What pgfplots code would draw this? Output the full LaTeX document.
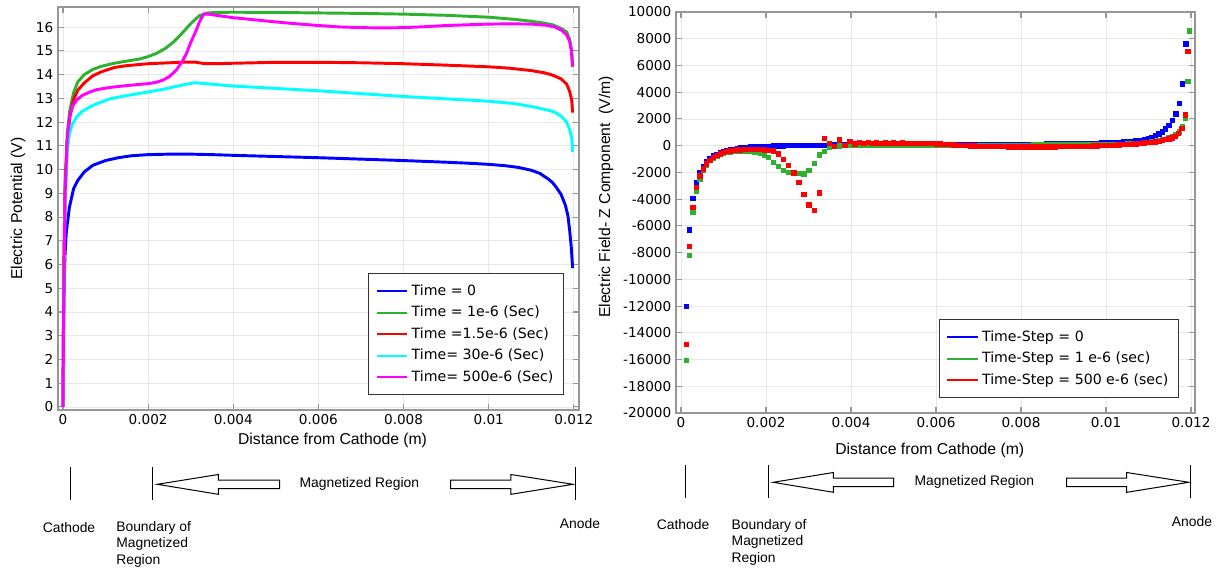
\documentclass[border=0pt]{standalone}
\usepackage{pgfplots}
\pgfplotsset{compat=1.18}
\usepackage{pgfplotstable}
\usepackage{fontspec}
\setmainfont{DejaVu Sans}
\newfontfamily\arialfont{Liberation Sans}

\definecolor{cblue}{RGB}{0,0,255}
\definecolor{cgreen}{RGB}{46,177,46}
\definecolor{cred}{RGB}{255,0,0}
\definecolor{ccyan}{RGB}{0,255,255}
\definecolor{cmag}{RGB}{255,0,255}
\definecolor{framegray}{RGB}{150,150,150}
\definecolor{gridgray}{RGB}{232,232,232}

% ---------- left plot: electric potential ----------
\pgfplotstableread{
x y
0 0
0.00001 3
0.00003 5.5
0.00005 6.5
0.00008 7.4
0.00015 8.4
0.00025 9.2
0.00035 9.55
0.0005 9.9
0.0007 10.18
0.001 10.38
0.0013 10.5
0.0016 10.58
0.002 10.63
0.0025 10.65
0.003 10.65
0.0035 10.63
0.004 10.6
0.005 10.55
0.006 10.5
0.007 10.44
0.008 10.38
0.009 10.31
0.0095 10.27
0.01 10.22
0.0104 10.16
0.0107 10.09
0.011 9.97
0.0112 9.84
0.0114 9.6
0.0115 9.45
0.0116 9.22
0.0117 8.95
0.0118 8.5
0.01186 8.05
0.0119 7.45
0.01194 6.7
0.01197 5.85
}\blueL

\pgfplotstableread{
x y
0 0
0.00002 6
0.00005 9.5
0.0001 11.5
0.00016 12.5
0.00025 13.25
0.00035 13.7
0.0005 14.0
0.0007 14.22
0.0009 14.35
0.0012 14.48
0.0015 14.57
0.0018 14.66
0.002 14.76
0.0022 14.9
0.0024 15.1
0.0026 15.38
0.0028 15.75
0.003 16.15
0.0032 16.48
0.0034 16.6
0.0036 16.62
0.004 16.63
0.005 16.62
0.006 16.6
0.007 16.58
0.008 16.55
0.009 16.5
0.01 16.42
0.0106 16.33
0.011 16.25
0.0113 16.17
0.0115 16.1
0.0117 15.95
0.01183 15.8
0.0119 15.5
0.01194 15.1
0.01197 14.4
}\greenL

\pgfplotstableread{
x y
0 0
0.00002 6
0.00005 9.2
0.0001 11.1
0.00016 12.2
0.00025 12.95
0.00035 13.35
0.0005 13.65
0.0007 13.95
0.0009 14.12
0.0012 14.3
0.0015 14.38
0.002 14.46
0.0025 14.5
0.0029 14.53
0.0031 14.53
0.0033 14.47
0.0036 14.46
0.004 14.48
0.005 14.52
0.006 14.52
0.007 14.5
0.008 14.46
0.009 14.4
0.01 14.33
0.0105 14.27
0.011 14.17
0.0113 14.08
0.0115 13.98
0.0117 13.82
0.01183 13.6
0.0119 13.3
0.01195 12.9
0.01197 12.4
}\redL

\pgfplotstableread{
x y
0 0
0.00002 5
0.00005 8.5
0.0001 10.8
0.00015 11.5
0.00022 11.9
0.00032 12.22
0.00045 12.45
0.00063 12.64
0.0008 12.78
0.0011 12.98
0.0015 13.12
0.002 13.27
0.0024 13.4
0.0027 13.52
0.0029 13.6
0.0031 13.66
0.0033 13.63
0.0036 13.58
0.004 13.52
0.005 13.42
0.006 13.32
0.007 13.2
0.008 13.08
0.009 12.98
0.01 12.88
0.0106 12.78
0.011 12.66
0.0114 12.5
0.01155 12.42
0.0117 12.25
0.01182 12.02
0.0119 11.7
0.01195 11.3
0.01197 10.75
}\cyanL

\pgfplotstableread{
x y
0 0
0.00002 5
0.00005 9
0.0001 11.3
0.00015 12.2
0.00022 12.65
0.00032 12.93
0.00045 13.12
0.00063 13.27
0.0008 13.37
0.0011 13.46
0.0015 13.54
0.002 13.62
0.0022 13.68
0.00235 13.77
0.0025 13.92
0.00266 14.19
0.0028 14.55
0.0029 14.89
0.003 15.35
0.00313 15.87
0.0032 16.2
0.0033 16.55
0.0034 16.55
0.0036 16.5
0.004 16.4
0.005 16.22
0.0055 16.14
0.006 16.07
0.0065 16.01
0.007 15.98
0.0075 15.97
0.008 15.98
0.0085 16.02
0.009 16.07
0.0095 16.1
0.01 16.13
0.0105 16.14
0.011 16.13
0.01135 16.08
0.01155 16.01
0.0117 15.88
0.01182 15.7
0.0119 15.4
0.01194 15.0
0.01197 14.33
}\magL

% ---------- right plot: electric field ----------
\pgfplotstableread{
x y
0.00012 -12000
0.0002 -6300
0.00028 -3940
0.00036 -2750
0.00044 -1970
0.00052 -1520
0.0006 -1190
0.00068 -950
0.00076 -770
0.00084 -630
0.00092 -520
0.001 -430
0.00108 -360
0.00116 -300
0.00124 -250
0.00132 -205
0.0014 -170
0.00148 -140
0.00156 -115
0.00164 -95
0.00172 -75
0.0018 -60
0.00188 -45
0.00196 -35
0.00205 -25
0.00217 -15
0.00229 -5
0.00241 5
0.00253 10
0.00265 15
0.00277 20
0.00289 25
0.00301 30
0.00313 35
0.00325 40
0.00337 45
0.00349 50
0.00361 55
0.00373 60
0.00385 62
0.00397 65
0.00409 68
0.0042 70
0.0043 72
0.0044 74
0.0045 75
0.0046 77
0.0047 78
0.0048 80
0.0049 81
0.005 83
0.0051 84
0.0052 85
0.0053 86
0.0054 87
0.0055 88
0.0056 89
0.0057 90
0.0058 91
0.0059 92
0.006 93
0.0061 94
0.0062 95
0.0063 96
0.0064 97
0.0065 98
0.0066 99
0.0067 100
0.0068 101
0.0069 102
0.007 103
0.0071 104
0.0072 105
0.0073 106
0.0074 107
0.0075 108
0.0076 109
0.0077 110
0.0078 112
0.0079 113
0.008 115
0.0081 117
0.0082 119
0.0083 121
0.0084 123
0.0085 125
0.0086 128
0.0087 131
0.0088 134
0.0089 137
0.009 141
0.0091 145
0.0092 150
0.0093 155
0.0094 161
0.0095 168
0.0096 176
0.0097 185
0.0098 195
0.0099 206
0.01 218
0.0101 232
0.0102 248
0.0103 266
0.0104 286
0.0105 310
0.0106 337
0.0107 368
0.0108 405
0.0109 460
0.011 560
0.01108 650
0.01116 760
0.01124 880
0.01132 1040
0.0114 1270
0.01148 1530
0.01156 1880
0.01164 2380
0.01172 3150
0.0118 4620
0.01188 7630
}\blueR

\pgfplotstableread{
x y
0.00012 -16060
0.0002 -8200
0.00028 -4990
0.00036 -3380
0.00044 -2470
0.00052 -1840
0.0006 -1430
0.00068 -1110
0.00076 -900
0.00084 -760
0.00092 -650
0.001 -570
0.00108 -510
0.00116 -470
0.00124 -440
0.00132 -420
0.0014 -410
0.00148 -405
0.00156 -410
0.00164 -425
0.00172 -460
0.0018 -510
0.00188 -580
0.00196 -700
0.00205 -880
0.00217 -1250
0.00229 -1560
0.00241 -1860
0.00253 -1990
0.00265 -2050
0.00277 -2080
0.00289 -2090
0.00301 -1850
0.00313 -1300
0.00325 -680
0.00337 -420
0.00349 -130
0.00361 -50
0.00373 -10
0.00385 15
0.00397 25
0.00409 30
0.0042 32
0.0043 34
0.0044 35
0.0045 36
0.0046 37
0.0047 38
0.0048 38
0.0049 39
0.005 39
0.0051 40
0.0052 40
0.0053 41
0.0054 41
0.0055 41
0.0056 42
0.0057 42
0.0058 42
0.0059 43
0.006 43
0.0061 43
0.0062 44
0.0063 44
0.0064 44
0.0065 45
0.0066 45
0.0067 45
0.0068 46
0.0069 46
0.007 46
0.0071 47
0.0072 47
0.0073 47
0.0074 48
0.0075 48
0.0076 48
0.0077 49
0.0078 49
0.0079 50
0.008 50
0.0081 51
0.0082 52
0.0083 53
0.0084 54
0.0085 55
0.0086 56
0.0087 57
0.0088 58
0.0089 59
0.009 60
0.0091 62
0.0092 64
0.0093 66
0.0094 68
0.0095 70
0.0096 72
0.0097 74
0.0098 76
0.0099 78
0.01 80
0.0101 87
0.0102 95
0.0103 105
0.0104 117
0.0105 130
0.0106 145
0.0107 163
0.0108 185
0.0109 215
0.011 250
0.01108 280
0.01116 320
0.01124 370
0.01132 430
0.0114 500
0.01148 590
0.01156 700
0.01164 850
0.01172 1050
0.01179 1400
0.01186 2070
0.01192 4810
0.01196 8600
}\greenR

\pgfplotstableread{
x y
0.00012 -14860
0.0002 -7530
0.00028 -4590
0.00036 -3120
0.00044 -2240
0.00052 -1740
0.0006 -1350
0.00068 -1070
0.00076 -870
0.00084 -720
0.00092 -600
0.001 -510
0.00108 -440
0.00116 -385
0.00124 -345
0.00132 -315
0.0014 -295
0.00148 -280
0.00156 -270
0.00164 -265
0.00172 -265
0.0018 -270
0.00188 -285
0.00196 -305
0.00205 -330
0.00217 -380
0.00229 -620
0.00241 -1000
0.00253 -1450
0.00265 -2030
0.00277 -2750
0.00289 -3620
0.00301 -4420
0.00313 -4850
0.00325 -3520
0.00337 560
0.00349 200
0.00361 -40
0.00373 450
0.00385 30
0.00397 320
0.00409 150
0.0042 260
0.0043 180
0.0044 240
0.0045 200
0.0046 230
0.0047 190
0.0048 220
0.0049 200
0.005 215
0.0051 195
0.0052 210
0.0053 190
0.0054 200
0.0055 185
0.0056 190
0.0057 175
0.0058 170
0.0059 160
0.006 145
0.0061 130
0.0062 110
0.0063 90
0.0064 70
0.0065 50
0.0066 30
0.0067 15
0.0068 0
0.0069 -15
0.007 -25
0.0071 -35
0.0072 -45
0.0073 -50
0.0074 -55
0.0075 -60
0.0076 -65
0.0077 -68
0.0078 -70
0.0079 -72
0.008 -73
0.0081 -74
0.0082 -75
0.0083 -75
0.0084 -75
0.0085 -74
0.0086 -73
0.0087 -71
0.0088 -69
0.0089 -66
0.009 -62
0.0091 -58
0.0092 -53
0.0093 -47
0.0094 -40
0.0095 -32
0.0096 -23
0.0097 -13
0.0098 -2
0.0099 10
0.01 23
0.0101 37
0.0102 52
0.0103 68
0.0104 86
0.0105 105
0.0106 126
0.0107 150
0.0108 176
0.0109 205
0.011 237
0.01108 265
0.01116 300
0.01124 345
0.01132 400
0.0114 460
0.01148 530
0.01155 600
0.01162 720
0.0117 950
0.01178 1320
0.01186 2320
0.01192 7050
}\redR

\pgfplotsset{
  legend image code/.code={\draw[#1, line width=1.6pt] (0pt,0pt) -- (23pt,0pt);},
  myaxis/.style={
    scale only axis,
    axis line style={framegray, line width=0.9pt},
    tick style={framegray, line width=0.8pt},
    major tick length=4.5pt,
    grid=major,
    major grid style={gridgray, line width=0.6pt},
    tick label style={font=\fontsize{10.2}{12}\selectfont},
    yticklabel style={/pgf/number format/.cd, fixed, 1000 sep={}, assume math mode=true},
    scaled y ticks=false,
    scaled x ticks=false,
    xtick={0,0.002,0.004,0.006,0.008,0.01,0.012},
    xticklabels={0,0.002,0.004,0.006,0.008,0.01,0.012},
    label style={font=\arialfont\fontsize{11.8}{14}\selectfont},
    legend cell align=left,
    legend style={draw=black!80, line width=0.8pt, fill=white,
      font=\fontsize{10.6}{12}\selectfont, inner xsep=5pt, inner ysep=5pt,
      row sep=0pt, nodes={inner sep=2.5pt, text height=8.5pt, text depth=2.6pt}},
  }
}

\begin{document}
\begin{tikzpicture}
\path[use as bounding box] (0pt,0pt) rectangle (915pt,426.75pt);

\begin{axis}[myaxis,
  at={(43.5pt,119.25pt)}, anchor=south west,
  width=390.75pt, height=302.25pt,
  xmin=-0.000117, xmax=0.01212, ymin=-0.13, ymax=16.85,
  ytick={0,1,2,3,4,5,6,7,8,9,10,11,12,13,14,15,16},
  xlabel={Distance from Cathode (m)},
  ylabel={Electric Potential (V)},
  xlabel style={at={(axis description cs:0.527,-0.0744)}, anchor=center},
  ylabel style={at={(axis description cs:-0.0768,0.5)}, anchor=center},
  legend style={at={(0.971,0.037)}, anchor=south east},
]
\addplot[cblue, line width=2.2pt] table {\blueL};
\addlegendentry{Time = 0}
\addplot[cgreen, line width=2.2pt] table {\greenL};
\addlegendentry{Time = 1e-6 (Sec)}
\addplot[cred, line width=2.2pt] table {\redL};
\addlegendentry{Time =1.5e-6 (Sec)}
\addplot[ccyan, line width=2.2pt] table {\cyanL};
\addlegendentry{Time= 30e-6 (Sec)}
\addplot[cmag, line width=2.2pt] table {\magL};
\addlegendentry{Time= 500e-6 (Sec)}
\end{axis}

\begin{axis}[myaxis,
  at={(507pt,117pt)}, anchor=south west,
  width=389.25pt, height=300.75pt,
  xmin=-0.000118, xmax=0.012094, ymin=-20000, ymax=10000,
  ytick={-20000,-18000,-16000,-14000,-12000,-10000,-8000,-6000,-4000,-2000,0,2000,4000,6000,8000,10000},
  xlabel={Distance from Cathode (m)},
  ylabel={Electric Field- Z Component\ \ (V/m)},
  xlabel style={at={(axis description cs:0.489,-0.0923)}, anchor=center},
  ylabel style={at={(axis description cs:-0.135,0.539)}, anchor=center},
  legend style={at={(0.969,0.037)}, anchor=south east},
]
\addplot[only marks, mark=square*, mark size=1.65pt, color=cblue, mark options={draw=none, fill=cblue}, forget plot] table {\blueR};
\addplot[only marks, mark=square*, mark size=1.65pt, color=cgreen, mark options={draw=none, fill=cgreen}, forget plot] table {\greenR};
\addplot[only marks, mark=square*, mark size=1.65pt, color=cred, mark options={draw=none, fill=cred}, forget plot] table {\redR};
\addlegendimage{cblue}
\addlegendentry{Time-Step = 0}
\addlegendimage{cgreen}
\addlegendentry{Time-Step = 1 e-6 (sec)}
\addlegendimage{cred}
\addlegendentry{Time-Step = 500 e-6 (sec)}
\end{axis}

% ---------- annotations below the plots ----------
\begin{scope}[x=0.75pt, y=-0.75pt, yshift=426.75pt, line width=0.75pt,
  every node/.style={font=\arialfont\fontsize{10.4}{12.4}\selectfont, inner sep=0pt}]
  % left
  \draw (70,467) -- (70,500);
  \draw (152.7,467) -- (152.7,500);
  \draw (575,467) -- (575,500);
  \draw (157.3,484.3) -- (218.3,474.5) -- (218.3,480) -- (279.7,480) -- (279.7,488.6) -- (218.3,488.6) -- (218.3,494.3) -- cycle;
  \draw (450.7,480) -- (510.9,480) -- (510.9,474.5) -- (573,484.3) -- (510.9,494.3) -- (510.9,488.6) -- (450.7,488.6) -- cycle;
  \node at (359.4,484.3) {Magnetized Region};
  \node at (69,528) {Cathode};
  \node[anchor=north west, align=left] at (115.8,520.5) {Boundary of\\Magnetized\\Region};
  \node at (580,524) {Anode};
  % right
  \draw (685,465) -- (685,498);
  \draw (768.1,465) -- (768.1,498);
  \draw (1190.8,465) -- (1190.8,498);
  \draw (773.2,482.3) -- (833.4,472.5) -- (833.4,478) -- (893.6,478) -- (893.6,486.6) -- (833.4,486.6) -- (833.4,492.3) -- cycle;
  \draw (1066.5,478) -- (1126.7,478) -- (1126.7,472.5) -- (1188.9,482.3) -- (1126.7,492.3) -- (1126.7,486.6) -- (1066.5,486.6) -- cycle;
  \node at (974.3,482.3) {Magnetized Region};
  \node at (683,525) {Cathode};
  \node[anchor=north west, align=left] at (731.2,518.5) {Boundary of\\Magnetized\\Region};
  \node at (1192,521.7) {Anode};
\end{scope}
\end{tikzpicture}
\end{document}
